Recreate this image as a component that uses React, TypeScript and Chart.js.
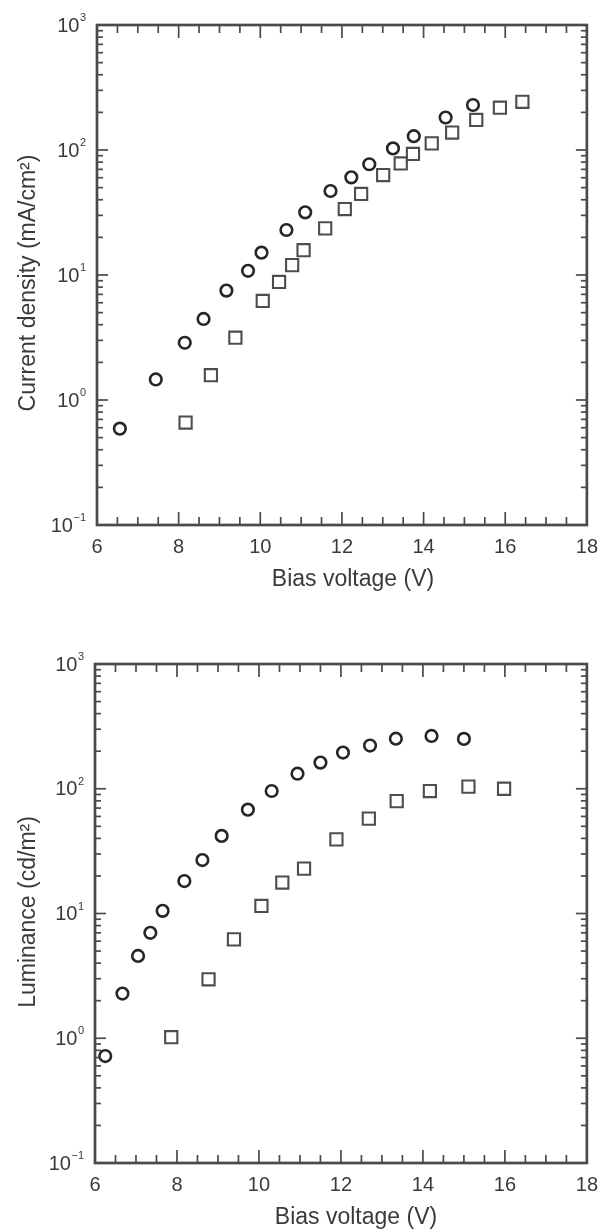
import React, { useEffect, useRef } from 'react';
import { Chart, registerables } from 'chart.js';

Chart.register(...registerables);

// ---- Current density vs. bias voltage (upper panel) ----
const densityCircleV = [6.56, 7.44, 8.15, 8.61, 9.17, 9.70, 10.03, 10.64, 11.10, 11.72, 12.23, 12.67, 13.25, 13.76, 14.54, 15.21];
const densityCircleJ = [0.59, 1.46, 2.87, 4.45, 7.5, 10.8, 15.1, 22.9, 31.7, 47, 60.4, 76.9, 103, 129, 182, 229];
const densitySquareV = [8.17, 8.79, 9.39, 10.06, 10.46, 10.78, 11.06, 11.59, 12.07, 12.47, 13.01, 13.44, 13.74, 14.2, 14.7, 15.29, 15.87, 16.42];
const densitySquareJ = [0.66, 1.58, 3.15, 6.2, 8.8, 12.0, 15.8, 23.6, 33.7, 44.5, 63, 78, 93, 113, 138, 174, 218, 243];

// ---- Luminance vs. bias voltage (lower panel) ----
const lumCircleV = [6.25, 6.67, 7.05, 7.35, 7.65, 8.18, 8.62, 9.09, 9.73, 10.31, 10.94, 11.50, 12.05, 12.71, 13.34, 14.21, 15.0];
const lumCircleL = [0.72, 2.28, 4.57, 7.0, 10.5, 18.2, 26.8, 41.9, 68, 95.9, 132, 162, 195, 222, 252, 265, 251];
const lumSquareV = [7.86, 8.77, 9.39, 10.06, 10.57, 11.1, 11.89, 12.68, 13.36, 14.17, 15.11, 15.98];
const lumSquareL = [1.02, 2.97, 6.2, 11.5, 17.7, 22.9, 39.3, 57.6, 79.6, 95.9, 104, 100];

// ---- Axes ----
const voltageRange = [6, 18];
const voltageTickLabels = ['6', '8', '10', '12', '14', '16', '18'];
const decadeExponents = [-1, 0, 1, 2, 3];
const X_TITLE = 'Bias voltage (V)';
const densityTitle = 'Current density (mA/cm\u00B2)';
const luminanceTitle = 'Luminance (cd/m\u00B2)';

const INK = '#3a3a3a';
const FRAME = '#4a4a4a';
const TICK_FONT = "'Liberation Sans Narrow', 'Arial Narrow', 'Liberation Sans', Arial, sans-serif";
const TITLE_FONT = "'Liberation Sans', Arial, Helvetica, sans-serif";
const TITLE_SIZE = 23;

type Panel = {
  yTitle: string;
  circleV: number[];
  circleY: number[];
  squareV: number[];
  squareY: number[];
  area: { left: number; right: number; top: number; bottom: number };
  xTitleCenter: [number, number];
  yTitleCenter: [number, number];
};

const CANVAS_W = 608;
const CANVAS_H = 616;

// Frame with inward ticks on all four sides, 10^n labels with raised exponents, axis titles
const frameTicks = {
  id: 'frameTicks',
  afterDraw(chart: any, _args: any, opts: any) {
    const { ctx, chartArea, scales } = chart;
    const { left, right, top, bottom } = chartArea;
    const x = scales.x;
    const y = scales.y;
    const line = (x1: number, y1: number, x2: number, y2: number) => {
      ctx.beginPath();
      ctx.moveTo(x1, y1);
      ctx.lineTo(x2, y2);
      ctx.stroke();
    };
    ctx.save();
    ctx.strokeStyle = FRAME;
    ctx.lineWidth = 1.7;

    // voltage ticks every 0.5 V, longer every 2 V
    const steps = (voltageRange[1] - voltageRange[0]) * 2;
    for (let i = 0; i <= steps; i++) {
      const v = voltageRange[0] + i * 0.5;
      const px = x.getPixelForValue(v);
      const len = i % 4 === 0 ? 13 : 8;
      line(px, bottom, px, bottom - len);
      line(px, top, px, top + len);
    }

    // logarithmic ticks: 1..9 x 10^n
    for (let k = 0; k < decadeExponents.length; k++) {
      const e = decadeExponents[k];
      const last = k === decadeExponents.length - 1;
      for (let m = 1; m <= (last ? 1 : 9); m++) {
        const py = y.getPixelForValue(m * Math.pow(10, e));
        const len = m === 1 ? 11 : 6;
        line(left, py, left + len, py);
        line(right, py, right - len, py);
      }
    }

    // box
    ctx.lineWidth = 2.7;
    ctx.strokeRect(left, top, right - left, bottom - top);

    // decade labels
    ctx.fillStyle = INK;
    ctx.textBaseline = 'middle';
    ctx.textAlign = 'right';
    decadeExponents.forEach((e) => {
      const py = y.getPixelForValue(Math.pow(10, e));
      const edge = left - 11;
      ctx.font = `11px ${TICK_FONT}`;
      const exp = String(e).replace('-', '\u2212');
      const ew = ctx.measureText(exp).width;
      ctx.fillText(exp, edge, py - 7);
      ctx.font = `20px ${TICK_FONT}`;
      ctx.fillText('10', edge - ew - 0.5, py + 1);
    });

    // axis titles
    ctx.textAlign = 'center';
    ctx.font = `${TITLE_SIZE}px ${TITLE_FONT}`;
    ctx.fillText(opts.xTitle, opts.xTitleCenter[0], opts.xTitleCenter[1]);
    ctx.translate(opts.yTitleCenter[0], opts.yTitleCenter[1]);
    ctx.rotate(-Math.PI / 2);
    ctx.fillText(opts.yTitle, 0, 0);
    ctx.restore();
  },
};

function PanelChart({ panel }: { panel: Panel }) {
  const ref = useRef<HTMLCanvasElement | null>(null);

  useEffect(() => {
    if (!ref.current) return;
    const { area } = panel;
    const chart = new Chart(ref.current, {
      type: 'scatter',
      data: {
        datasets: [
          {
            data: panel.circleV.map((v, i) => ({ x: v, y: panel.circleY[i] })),
            pointStyle: 'circle',
            pointRadius: 5.8,
            borderWidth: 2.6,
            borderColor: '#262626',
            backgroundColor: 'rgba(0,0,0,0)',
          },
          {
            data: panel.squareV.map((v, i) => ({ x: v, y: panel.squareY[i] })),
            pointStyle: 'rect',
            pointRadius: 8.6,
            borderWidth: 2.1,
            borderColor: '#4d4d4d',
            backgroundColor: 'rgba(0,0,0,0)',
          },
        ],
      },
      options: {
        responsive: false,
        animation: false,
        events: [],
        layout: {
          padding: { left: 0, right: CANVAS_W - area.right, top: area.top, bottom: 0 },
        },
        plugins: {
          legend: { display: false },
          tooltip: { enabled: false },
          frameTicks: {
            xTitle: X_TITLE,
            yTitle: panel.yTitle,
            xTitleCenter: panel.xTitleCenter,
            yTitleCenter: panel.yTitleCenter,
          },
        } as any,
        scales: {
          x: {
            type: 'linear',
            min: voltageRange[0],
            max: voltageRange[1],
            grid: { display: false, drawTicks: false },
            border: { display: false },
            ticks: {
              stepSize: 2,
              autoSkip: false,
              maxRotation: 0,
              padding: 10,
              color: INK,
              font: { family: TICK_FONT, size: 20 },
              callback: (v: any) => {
                const idx = Math.round((Number(v) - voltageRange[0]) / 2);
                return voltageTickLabels[idx] ?? '';
              },
            },
            afterFit: (s: any) => {
              s.height = CANVAS_H - area.bottom;
            },
          },
          y: {
            type: 'logarithmic',
            min: 0.1,
            max: 1000,
            grid: { display: false, drawTicks: false },
            border: { display: false },
            ticks: { display: false },
            afterFit: (s: any) => {
              s.width = area.left;
            },
          },
        },
      },
      plugins: [frameTicks],
    });
    return () => chart.destroy();
  }, [panel]);

  return (
    <div style={{ width: CANVAS_W, height: CANVAS_H }}>
      <canvas ref={ref} width={CANVAS_W} height={CANVAS_H} style={{ display: 'block' }} />
    </div>
  );
}

const upper: Panel = {
  yTitle: densityTitle,
  circleV: densityCircleV,
  circleY: densityCircleJ,
  squareV: densitySquareV,
  squareY: densitySquareJ,
  area: { left: 97, right: 594, top: 25, bottom: 525 },
  xTitleCenter: [353, 580],
  yTitleCenter: [29, 283],
};

const lower: Panel = {
  yTitle: luminanceTitle,
  circleV: lumCircleV,
  circleY: lumCircleL,
  squareV: lumSquareV,
  squareY: lumSquareL,
  area: { left: 95, right: 591, top: 48, bottom: 547 },
  xTitleCenter: [356, 602],
  yTitleCenter: [29, 296],
};

export default function App() {
  return (
    <div style={{ position: 'absolute', left: 0, top: 0, width: CANVAS_W, height: 1232, background: '#fff' }}>
      <PanelChart panel={upper} />
      <PanelChart panel={lower} />
    </div>
  );
}
